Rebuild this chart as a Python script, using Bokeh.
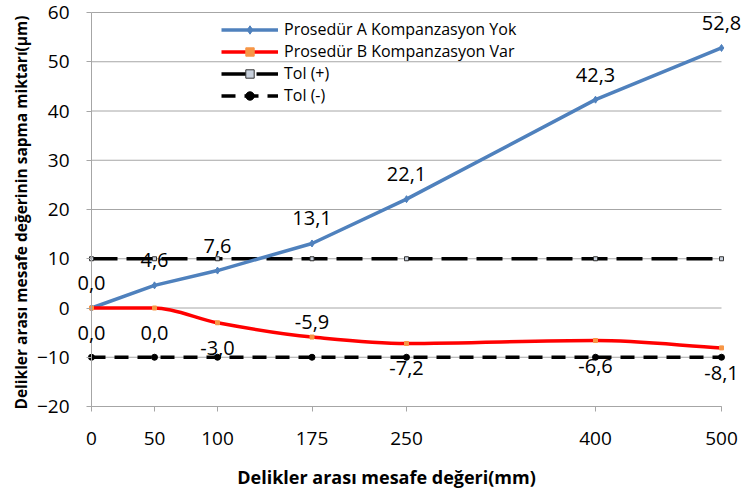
import numpy as np
from bokeh.plotting import figure
from bokeh.models import (Range1d, FixedTicker, Label, Legend, LegendItem)
from bokeh.embed import file_html
from bokeh.resources import INLINE

# ---- data ----
distance_mm = [0, 50, 100, 175, 250, 400, 500]
proc_a = [0.0, 4.6, 7.6, 13.1, 22.1, 42.3, 52.8]   # Prosedür A Kompanzasyon Yok
proc_b = [0.0, 0.0, -3.0, -5.9, -7.2, -6.6, -8.1]  # Prosedür B Kompanzasyon Var
tol_plus = [10, 10, 10, 10, 10, 10, 10]
tol_minus = [-10, -10, -10, -10, -10, -10, -10]
y_ticks = [-20, -10, 0, 10, 20, 30, 40, 50, 60]
series_names = ["Prosedür A Kompanzasyon Yok", "Prosedür B Kompanzasyon Var", "Tol (+)", "Tol (-)"]
x_title = "Delikler arası mesafe değeri(mm)"
y_title = "Delikler arası mesafe değerinin sapma miktarı(µm)"

# label side for series B (style only)
b_label_side = ["below", "below", "below", "above", "below", "below", "below"]

FONT = "Open Sans"
BLUE = "#4F81BD"
RED = "#FF0000"
GRID = "#A6A6A6"

# ---- layout (canvas pixels) ----
W, H = 742, 493
X0_PX, X1_PX = 91, 721      # where first / last distance land
YT_PX, YB_PX = 12, 406      # where top / bottom y tick land
xmin, xmax = distance_mm[0], distance_mm[-1]
ymin, ymax = y_ticks[0], y_ticks[-1]
sx = (X1_PX - X0_PX) / (xmax - xmin)
sy = (YB_PX - YT_PX) / (ymax - ymin)
x_range = Range1d(xmin - X0_PX / sx, xmax + (W - X1_PX) / sx)
y_range = Range1d(ymin - (H - YB_PX) / sy, ymax + YT_PX / sy)

p = figure(width=W, height=H, output_backend="svg", toolbar_location=None,
           x_range=x_range, y_range=y_range,
           min_border_left=0, min_border_right=0, min_border_top=0, min_border_bottom=0)
p.outline_line_color = None
p.background_fill_color = "white"
p.border_fill_color = "white"
p.xgrid.visible = False
p.ygrid.visible = False

# horizontal gridlines, limited to the data extent
p.segment(x0=[xmin] * len(y_ticks), x1=[xmax] * len(y_ticks), y0=y_ticks, y1=y_ticks,
          line_color=GRID, line_width=1)

p.xaxis.ticker = FixedTicker(ticks=distance_mm)
p.yaxis.ticker = FixedTicker(ticks=y_ticks)
p.xaxis.bounds = (xmin, xmax)
p.yaxis.bounds = (ymin, ymax)
p.xaxis.fixed_location = ymin
p.yaxis.fixed_location = xmin
for ax in (p.xaxis[0], p.yaxis[0]):
    ax.axis_line_color = GRID
    ax.major_tick_line_color = GRID
    ax.major_tick_in = 0
    ax.major_tick_out = 5
    ax.minor_tick_line_color = None
    ax.major_label_text_font = FONT
    ax.major_label_text_font_size = "19px"
    ax.major_label_text_color = "black"
p.xaxis.major_label_standoff = 20
p.yaxis.major_label_standoff = 17

# axis titles (placed in screen units; frame covers the canvas)
p.add_layout(Label(x=386, y=H - 476, x_units="screen", y_units="screen", text=x_title,
                   text_align="center", text_baseline="middle", text_font=FONT,
                   text_font_size="18px", text_font_style="bold", text_color="black"))
p.add_layout(Label(x=20, y=H - 212, x_units="screen", y_units="screen", text=y_title,
                   angle=np.pi / 2, text_align="center", text_baseline="middle", text_font=FONT,
                   text_font_size="15.5px", text_font_style="bold", text_color="black"))

# tolerance lines
lt1 = p.line(distance_mm, tol_plus, line_color="black", line_width=3.5, line_dash="26 9")
st1 = p.scatter(distance_mm, tol_plus, marker="square", size=4, fill_color="#C8D0DC", line_color="#333333")
lt2 = p.line(distance_mm, tol_minus, line_color="black", line_width=3.5, line_dash="14 9")
st2 = p.scatter(distance_mm, tol_minus, marker="circle", size=6, fill_color="black", line_color="black")

# series A
la = p.line(distance_mm, proc_a, line_color=BLUE, line_width=3.5)
sa = p.scatter(distance_mm, proc_a, marker="diamond", size=7, fill_color=BLUE, line_color=BLUE)

# series B, smoothed: monotone cubic (Fritsch-Carlson) drawn as Bezier segments
xb = np.array(distance_mm, dtype=float)
yb = np.array(proc_b, dtype=float)
h = np.diff(xb)
d = np.diff(yb) / h
m = np.zeros_like(yb)
m[0], m[-1] = d[0], d[-1]
for i in range(1, len(xb) - 1):
    if d[i - 1] * d[i] <= 0:
        m[i] = 0.0
    else:
        w1 = 2 * h[i] + h[i - 1]
        w2 = h[i] + 2 * h[i - 1]
        m[i] = (w1 + w2) / (w1 / d[i - 1] + w2 / d[i])
x0 = xb[:-1]; x1 = xb[1:]; y0 = yb[:-1]; y1 = yb[1:]
p.bezier(x0=x0, y0=y0, x1=x1, y1=y1,
         cx0=x0 + h / 3, cy0=y0 + m[:-1] * h / 3,
         cx1=x1 - h / 3, cy1=y1 - m[1:] * h / 3,
         line_color=RED, line_width=3.5)
lb = p.line([np.nan], [np.nan], line_color=RED, line_width=3.5)  # legend proxy
sb = p.scatter(distance_mm, proc_b, marker="square", size=4, fill_color="#F79646", line_color="#F79646")

# data labels
def fmt(v):
    return f"{v:.1f}".replace(".", ",")

for xv, yv in zip(distance_mm, proc_a):
    p.add_layout(Label(x=xv, y=yv, text=fmt(yv), y_offset=25,
                       text_align="center", text_baseline="middle",
                       text_font=FONT, text_font_size="20px", text_color="black"))
for xv, yv, side in zip(distance_mm, proc_b, b_label_side):
    p.add_layout(Label(x=xv, y=yv, text=fmt(yv), y_offset=(-25 if side == "below" else 15),
                       text_align="center", text_baseline="middle",
                       text_font=FONT, text_font_size="20px", text_color="black"))

legend = Legend(items=[
    LegendItem(label=series_names[0], renderers=[la, sa]),
    LegendItem(label=series_names[1], renderers=[lb, sb]),
    LegendItem(label=series_names[2], renderers=[lt1, st1]),
    LegendItem(label=series_names[3], renderers=[lt2, st2]),
], location=(221, 387))
legend.background_fill_alpha = 0
legend.border_line_color = None
legend.padding = 0
legend.spacing = 0
legend.margin = 0
legend.glyph_width = 57
legend.glyph_height = 21
legend.label_height = 21
legend.label_standoff = 6
legend.label_text_font = FONT
legend.label_text_font_size = "16px"
legend.label_text_color = "black"
p.add_layout(legend)

open("out.html", "w").write(file_html(p, INLINE))
